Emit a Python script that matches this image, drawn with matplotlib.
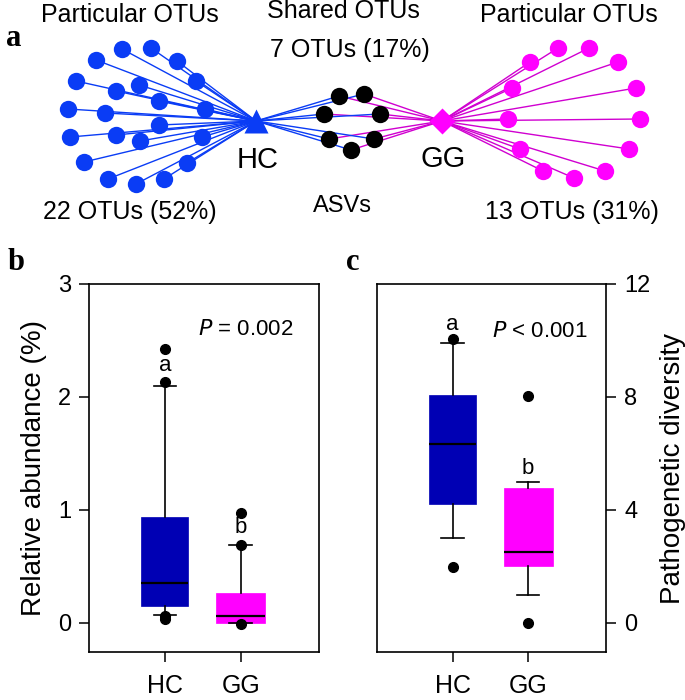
import matplotlib
matplotlib.use("Agg")
import matplotlib.pyplot as plt

plt.rcParams['font.family'] = ['Liberation Sans', 'DejaVu Sans']

# ---- network (panel a), node positions in pixel space of the top strip
hc_hub = (256, 121)
gg_hub = (442, 121)
hc_x = [122, 151, 96, 177, 76, 196, 139, 116, 159, 68, 105, 205, 159, 70, 116, 140, 202, 84, 187, 108, 164, 136]
hc_y = [49, 48, 60, 61, 81, 81, 85, 91, 101, 109, 113, 109, 125, 137, 135, 141, 137, 162, 163, 179, 179, 184]
shared_x = [339, 364, 324, 380, 329, 374, 351]
shared_y = [96, 94, 114, 114, 139, 139, 150]
gg_x = [558, 589, 530, 618, 512, 636, 508, 640, 520, 629, 543, 605, 574]
gg_y = [48, 48, 62, 62, 88, 88, 119, 119, 149, 149, 171, 171, 178]

# ---- box stats (panel b: relative abundance, panel c: pathogenetic diversity)
groups = ['HC', 'GG']
abund_stats = [
    dict(med=0.355, q1=0.15, q3=0.94, whislo=0.07, whishi=2.10, fliers=[2.42, 2.13, 0.03, 0.06]),
    dict(med=0.055, q1=0.0, q3=0.265, whislo=0.0, whishi=0.69, fliers=[0.97, 0.69, -0.01]),
]
div_stats = [
    dict(med=6.32, q1=4.22, q3=8.06, whislo=3.02, whishi=9.9, fliers=[10.05, 1.99]),
    dict(med=2.5, q1=2.02, q3=4.79, whislo=1.0, whishi=5.0, fliers=[8.02, 0.0]),
]
abund_letters = [('a', 2.28), ('b', 0.84)]
div_letters = [('a', 10.55), ('b', 5.47)]

blue_net = '#0a3cf5'
mag = '#ff00ff'
box_blue = '#0000b4'

fig = plt.figure(figsize=(6.85, 7.0), dpi=100)

# panel a
ax = fig.add_axes([0, 1 - 235 / 700, 1, 235 / 700])
ax.set_xlim(0, 685)
ax.set_ylim(235, 0)
ax.axis('off')
for x, y in zip(hc_x, hc_y):
    ax.plot([x, hc_hub[0]], [y, hc_hub[1]], color=blue_net, lw=1, zorder=1)
for x, y in zip(gg_x, gg_y):
    ax.plot([x, gg_hub[0]], [y, gg_hub[1]], color='#d000d0', lw=1, zorder=1)
for x, y in zip(shared_x, shared_y):
    ax.plot([x, hc_hub[0]], [y, hc_hub[1]], color=blue_net, lw=1, zorder=1)
    ax.plot([x, gg_hub[0]], [y, gg_hub[1]], color='#d000d0', lw=1, zorder=1)
ax.plot(hc_x, hc_y, 'o', color=blue_net, ms=12.5, mec='none', zorder=3)
ax.plot(gg_x, gg_y, 'o', color=mag, ms=12.5, mec='none', zorder=3)
ax.plot(shared_x, shared_y, 'o', color='black', ms=12.5, mec='none', zorder=3)
ax.plot(*hc_hub, '^', color=blue_net, ms=17, mec='none', zorder=4)
ax.plot(*gg_hub, 'D', color=mag, ms=13, mec='none', zorder=4)

ax.text(130, 15, 'Particular OTUs', fontsize=18, ha='center', va='center')
ax.text(569, 15, 'Particular OTUs', fontsize=18, ha='center', va='center')
ax.text(343, 11, 'Shared OTUs', fontsize=18, ha='center', va='center')
ax.text(350, 50, '7 OTUs (17%)', fontsize=18, ha='center', va='center')
ax.text(130, 212, '22 OTUs (52%)', fontsize=18, ha='center', va='center')
ax.text(572, 212, '13 OTUs (31%)', fontsize=18, ha='center', va='center')
ax.text(342, 206, 'ASVs', fontsize=17, ha='center', va='center')
ax.text(258, 160, 'HC', fontsize=21, ha='center', va='center')
ax.text(443, 159, 'GG', fontsize=21, ha='center', va='center')
ax.text(14, 38, 'a', fontsize=22, fontweight='bold', family='Liberation Serif', ha='center', va='center')


def box_panel(rect, stats, letters, ylim, yticks, ylabel, ptext, right=False):
    bx = fig.add_axes(rect)
    colors = [box_blue, mag]
    res = bx.bxp(stats, positions=[1, 2], widths=[0.62, 0.65], patch_artist=True,
                 capwidths=0.3, showfliers=True,
                 medianprops=dict(color='black', lw=1.6),
                 whiskerprops=dict(color='black', lw=1.2),
                 capprops=dict(color='black', lw=1.2),
                 flierprops=dict(marker='o', mfc='black', mec='black', ms=7))
    for patch, c in zip(res['boxes'], colors):
        patch.set_facecolor(c)
        patch.set_edgecolor(c)
        patch.set_linewidth(0.5)
    for (lab, y), xpos in zip(letters, [1, 2]):
        bx.text(xpos, y, lab, fontsize=16, ha='center', va='center')
    bx.set_xlim(0, 3.03)
    bx.set_ylim(*ylim)
    bx.set_yticks(yticks)
    bx.set_xticks([1, 2])
    bx.set_xticklabels(groups)
    bx.tick_params(axis='x', labelsize=18, length=7, width=1.1, pad=9)
    bx.tick_params(axis='y', labelsize=17, length=7, width=1.1, pad=6)
    for s in bx.spines.values():
        s.set_linewidth(1.2)
    if right:
        bx.yaxis.tick_right()
        bx.yaxis.set_label_position('right')
        bx.set_ylabel(ylabel, fontsize=20, labelpad=7)
    else:
        bx.set_ylabel(ylabel, fontsize=20, labelpad=8)
    bx.text(ptext[0], ptext[1], ptext[2], fontsize=16, ha='center', va='center')
    return bx


box_panel([89 / 685, 1 - 652 / 700, 230 / 685, 368 / 700], abund_stats, abund_letters,
          (-0.26, 3), [0, 1, 2, 3], 'Relative abundance (%)', (2.07, 2.6, r'$P$ = 0.002'))
box_panel([377 / 685, 1 - 652 / 700, 229 / 685, 368 / 700], div_stats, div_letters,
          (-1.03, 12), [0, 4, 8, 12], 'Pathogenetic diversity', (2.15, 10.33, r'$P$ < 0.001'),
          right=True)

fig.text(16 / 685, 1 - 263 / 700, 'b', fontsize=22, fontweight='bold', family='Liberation Serif',
         ha='center', va='center')
fig.text(353 / 685, 1 - 262 / 700, 'c', fontsize=22, fontweight='bold', family='Liberation Serif',
         ha='center', va='center')

fig.savefig('out.png', dpi=100)
